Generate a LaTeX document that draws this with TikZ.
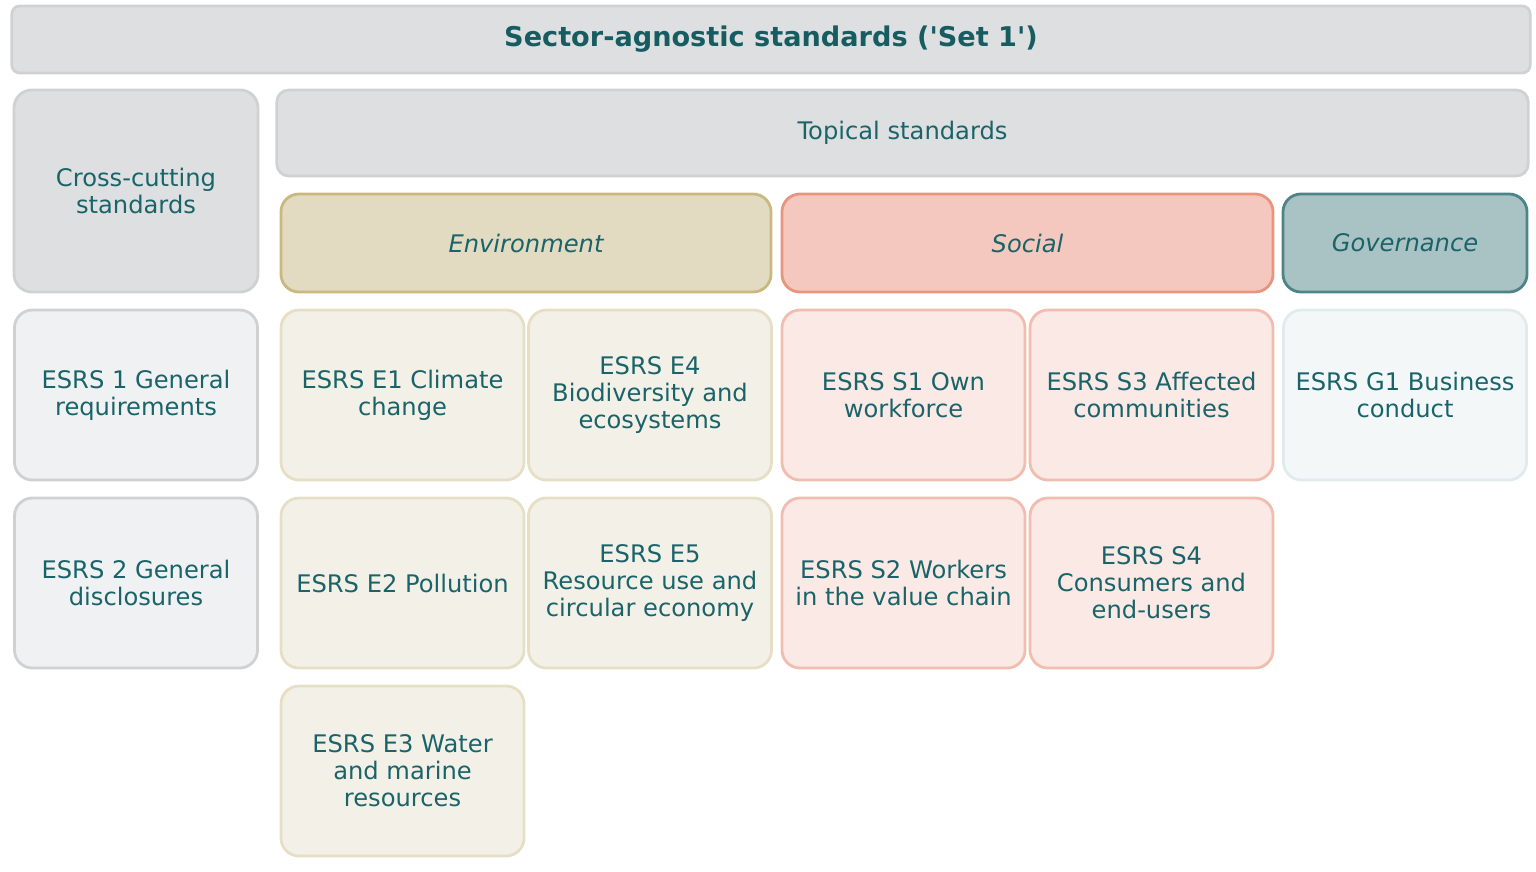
\documentclass[tikz,border=0pt]{standalone}
\usepackage{fontspec}
\setmainfont{DejaVu Sans}
\usepackage{tikz}
\usetikzlibrary{positioning}

\definecolor{tealtext}{HTML}{1A6469}
\definecolor{titletext}{HTML}{175C61}
\definecolor{greyfill}{HTML}{DEDFE1}
\definecolor{greyline}{HTML}{D0D1D3}
\definecolor{greylight}{HTML}{F0F1F2}
\definecolor{envfill}{HTML}{E2DBC2}
\definecolor{envline}{HTML}{C9B87F}
\definecolor{envlight}{HTML}{F3F0E7}
\definecolor{envlightline}{HTML}{E6DFC6}
\definecolor{socfill}{HTML}{F4C8BE}
\definecolor{socline}{HTML}{E8957F}
\definecolor{soclight}{HTML}{FAE9E5}
\definecolor{soclightline}{HTML}{F1BDB0}
\definecolor{govfill}{HTML}{A9C3C5}
\definecolor{govline}{HTML}{4E8488}
\definecolor{govlight}{HTML}{F4F7F8}
\definecolor{govlightline}{HTML}{E2EBEC}

\begin{document}
\begin{tikzpicture}[x=0.025cm,y=-0.025cm,
	base/.style={draw,line width=2pt,inner sep=0pt,align=center,text=tealtext,
		rounded corners=0.45cm,font=\fontsize{17.2}{19.2}\selectfont},
	cell/.style={base,minimum width=6.075cm,minimum height=4.25cm},
	head/.style={base,minimum height=2.45cm,font=\fontsize{17.2}{19.2}\selectfont\itshape},
	greycell/.style={cell,fill=greylight,draw=greyline},
	envcell/.style={cell,fill=envlight,draw=envlightline},
	soccell/.style={cell,fill=soclight,draw=soclightline},
	govcell/.style={cell,fill=govlight,draw=govlightline}]
	
	\useasboundingbox (0,0) rectangle (1536,871);
	
	% Top banners
	\node[base,fill=greyfill,draw=greyline,rounded corners=0.2cm,
		minimum width=37.95cm,minimum height=1.675cm,text=titletext,
		font=\fontsize{19.3}{22}\selectfont\bfseries] (title) at (771,39.5)
		{Sector-agnostic standards (\textquotesingle Set 1\textquotesingle)};
	\node[base,fill=greyfill,draw=greyline,minimum width=6.1cm,minimum height=5.05cm]
		(cross) at (136,191) {Cross-cutting\\standards};
	\node[base,fill=greyfill,draw=greyline,rounded corners=0.3cm,
		minimum width=31.275cm,minimum height=2.15cm] (topical) at (902.5,133) {Topical standards};
	
	% Pillars
	\node[head,fill=envfill,draw=envline,minimum width=12.25cm] (env) at (526,243) {Environment};
	\node[head,fill=socfill,draw=socline,minimum width=12.275cm] (soc) at (1027.5,243) {Social};
	\node[head,fill=govfill,draw=govline,minimum width=6.1cm] (gov) at (1405,243) {Governance};
	
	% Row 1
	\node[greycell] (esrs1) at (136,395) {ESRS 1 General\\requirements};
	\node[envcell] (e1) at (402.5,395) {ESRS E1 Climate\\change};
	\node[envcell] (e4) at (650,395) {ESRS E4\\Biodiversity and\\ecosystems};
	\node[soccell] (s1) at (903.5,395) {ESRS S1 Own\\workforce};
	\node[soccell] (s3) at (1151.5,395) {ESRS S3 Affected\\communities};
	\node[govcell] (g1) at (1405,395) {ESRS G1 Business\\conduct};
	
	% Row 2
	\node[greycell] (esrs2) at (136,583) {ESRS 2 General\\disclosures};
	\node[envcell] (e2) at (402.5,583) {ESRS E2 Pollution};
	\node[envcell] (e5) at (650,583) {ESRS E5\\Resource use and\\circular economy};
	\node[soccell] (s2) at (903.5,583) {ESRS S2 Workers\\in the value chain};
	\node[soccell] (s4) at (1151.5,583) {ESRS S4\\Consumers and\\end-users};
	
	% Row 3
	\node[envcell] (e3) at (402.5,771) {ESRS E3 Water\\and marine\\resources};
	
\end{tikzpicture}
\end{document}
